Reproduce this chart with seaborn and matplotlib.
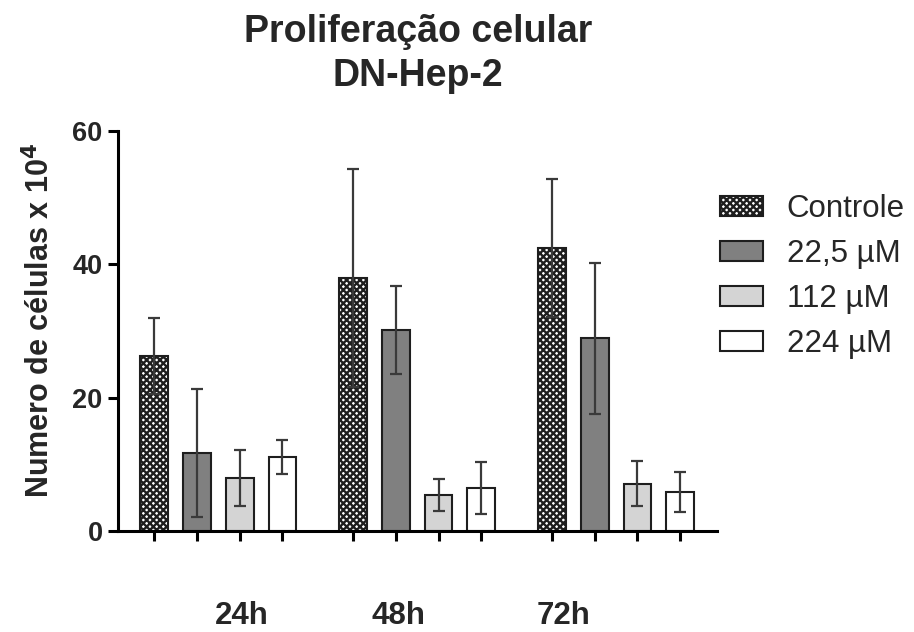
import numpy as np
import pandas as pd
import matplotlib
matplotlib.use("Agg")
import matplotlib.pyplot as plt
import matplotlib.transforms as mtransforms
import seaborn as sns

# ── data ──────────────────────────────────────────────────────────────────
times = ["24h", "48h", "72h"]
groups = ["Controle", "22,5 µM", "112 µM", "224 µM"]
mean_ctrl = [26.2, 37.9, 42.4]
mean_225 = [11.7, 30.1, 28.9]
mean_112 = [8.0, 5.4, 7.1]
mean_224 = [11.1, 6.4, 5.8]
sd_ctrl = [5.7, 16.3, 10.3]
sd_225 = [9.6, 6.6, 11.3]
sd_112 = [4.2, 2.4, 3.4]
sd_224 = [2.5, 3.9, 3.0]

df = pd.DataFrame({
    "tempo": times * 4,
    "grupo": np.repeat(groups, 3),
    "media": mean_ctrl + mean_225 + mean_112 + mean_224,
    "dp": sd_ctrl + sd_225 + sd_112 + sd_224,
})

# ── style ─────────────────────────────────────────────────────────────────
sns.set_theme(style="ticks")
plt.rcParams["font.family"] = ["Liberation Sans", "DejaVu Sans"]
plt.rcParams["hatch.linewidth"] = 1.7
plt.rcParams["hatch.color"] = "black"

colors = ["white", "#808080", "#d4d4d4", "white"]
CTRL_HATCH = "xxxxx"

fig = plt.figure(figsize=(9.14, 6.32), dpi=100)
ax = fig.add_axes([0.129, 0.160, 0.656, 0.633])

sns.barplot(data=df, x="tempo", y="media", hue="grupo", order=times,
            hue_order=groups, palette=colors, width=0.86, gap=0.35,
            edgecolor="#1e1e1e", linewidth=1.5, errorbar=None, ax=ax)

centers = []
for cont, name in zip(ax.containers, groups):
    sub = df[df["grupo"] == name].set_index("tempo").loc[times]
    xs = [p.get_x() + p.get_width() / 2 for p in cont.patches]
    centers += xs
    if name == "Controle":
        for p in cont.patches:
            p.set_hatch(CTRL_HATCH)
    ax.errorbar(xs, sub["media"], yerr=sub["dp"], fmt="none",
                ecolor="#3a3a3a", elinewidth=1.6, capsize=4.3,
                capthick=1.6, zorder=5)

# ── axes ──────────────────────────────────────────────────────────────────
ax.set_ylim(0, 60)
ax.set_xlim(-0.505, 2.51)
ax.set_yticks([0, 20, 40, 60])
ax.set_xticks(sorted(centers))
ax.set_xticklabels([])
ax.set_xlabel("")
ax.set_ylabel("Numero de células x 10$^{\\mathbf{4}}$", fontsize=22,
              fontweight="bold")
ax.yaxis.set_label_coords(-0.103, 0.525)
for lab in ax.get_yticklabels():
    lab.set_fontweight("bold")
ax.tick_params(axis="both", width=2.2, length=7, color="black")
ax.tick_params(axis="y", labelsize=19.5, pad=4)
for side in ["left", "bottom"]:
    ax.spines[side].set_linewidth(2.2)
    ax.spines[side].set_color("black")
sns.despine(ax=ax)

# group labels, GraphPad-style offset below the axis
trans = mtransforms.blended_transform_factory(ax.transData, ax.transAxes)
for t, xpos in zip(times, [0.12, 0.905, 1.735]):
    ax.text(xpos, -0.2125, t, transform=trans, ha="center", va="center",
            fontsize=22.5, fontweight="bold")

ax.set_title("Proliferação celular\nDN-Hep-2", fontsize=27,
             fontweight="bold", linespacing=1.3, pad=32)

leg = ax.legend(loc="upper left", bbox_to_anchor=(0.757, 0.738),
                bbox_transform=fig.transFigure, frameon=False, fontsize=22.5,
                handlelength=1.38, handleheight=0.6, labelspacing=0.48,
                handletextpad=0.75)
leg.legend_handles[0].set_hatch(CTRL_HATCH)

fig.savefig("out.png", dpi=100)
